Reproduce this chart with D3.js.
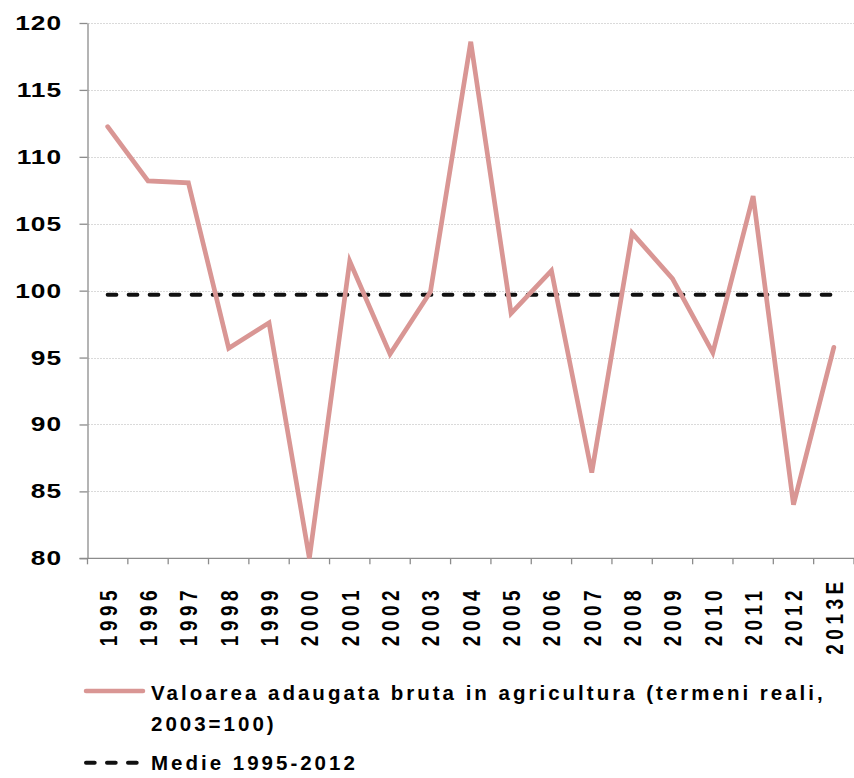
<!DOCTYPE html>
<html><head><meta charset="utf-8">
<script src="https://cdn.jsdelivr.net/npm/d3@7/dist/d3.min.js"></script>
<style>html,body{margin:0;padding:0;background:#fff;} svg{display:block;}</style>
</head><body>
<svg id="chart" width="854" height="778"></svg>
<script>
const years = ["1995","1996","1997","1998","1999","2000","2001","2002","2003","2004","2005","2006","2007","2008","2009","2010","2011","2012","2013E"];
const valoarea = [112.25,108.2,108.06,95.7,97.6,80.0,102.2,95.26,99.9,118.6,98.3,101.5,86.4,104.3,100.9,95.36,107.07,84.0,95.76];
const medie = [99.7,99.7,99.7,99.7,99.7,99.7,99.7,99.7,99.7,99.7,99.7,99.7,99.7,99.7,99.7,99.7,99.7,99.7,99.7];
const yTicks = [80,85,90,95,100,105,110,115,120];
const legendValoarea = ["Valoarea adaugata bruta in agricultura (termeni reali,", "2003=100)"];
const legendMedie = "Medie 1995-2012";

const FONT = "'Liberation Sans', Arial, Helvetica, sans-serif";
const PINK = "#d99694";
const AXIS = "#8c8c8c";

const svg = d3.select("#chart");
const x = d3.scaleBand().domain(years).range([87.5, 854]);
const y = d3.scaleLinear().domain([80, 120]).range([558.3, 23]);
const cx = d => x(d) + x.bandwidth() / 2;

// gridlines
svg.append("g").selectAll("line").data(yTicks.filter(t => t > 80)).join("line")
  .attr("x1", x.range()[0] + 1).attr("x2", x.range()[1])
  .attr("y1", d => Math.round(y(d)) + 0.5).attr("y2", d => Math.round(y(d)) + 0.5)
  .attr("stroke", "#b4b4b4").attr("stroke-width", 1).attr("stroke-dasharray", "1,2");

// y axis
const yAxisG = svg.append("g").attr("transform", `translate(${x.range()[0]},0)`)
  .call(d3.axisLeft(y).tickValues(yTicks).tickSize(8).tickSizeOuter(0).tickFormat(""));
yAxisG.selectAll(".domain, .tick line").attr("stroke", AXIS).attr("stroke-width", 1.3);

// y labels
svg.append("g").selectAll("text").data(yTicks).join("text")
  .attr("transform", d => `translate(62,${y(d)}) scale(1.35,1)`)
  .attr("text-anchor", "end").attr("dy", "0.36em")
  .attr("font-family", FONT).attr("font-size", 19.5).attr("font-weight", "bold")
  .attr("letter-spacing", 0.7).attr("fill", "#000")
  .text(d => d);

// x axis line + boundary ticks
const xb = svg.append("g");
xb.append("line").attr("x1", x.range()[0] - 8).attr("x2", x.range()[1])
  .attr("y1", y(80)).attr("y2", y(80)).attr("stroke", AXIS).attr("stroke-width", 1.3);
const bounds = years.map(d => x(d)).concat([x.range()[1]]);
xb.selectAll("line.tk").data(bounds).join("line").attr("class", "tk")
  .attr("x1", d => d).attr("x2", d => d).attr("y1", y(80)).attr("y2", y(80) + 6)
  .attr("stroke", AXIS).attr("stroke-width", 1.3);

// x labels
svg.append("g").selectAll("text").data(years).join("text")
  .attr("transform", d => `translate(${cx(d) + 9},616) rotate(-90) scale(1,1.25)`)
  .attr("text-anchor", "middle")
  .attr("font-family", FONT).attr("font-size", 19).attr("font-weight", "bold")
  .attr("letter-spacing", 4.5).attr("fill", "#000")
  .text(d => d);

// mean dashed line
const meanLine = d3.line().x((d, i) => cx(years[i])).y(d => y(d));
svg.append("path").datum(medie).attr("d", meanLine)
  .attr("fill", "none").attr("stroke", "#111").attr("stroke-width", 4)
  .attr("stroke-linecap", "round").attr("stroke-dasharray", "8.7,12.3");

// main series
const mainLine = d3.line().x((d, i) => cx(years[i])).y(d => y(d));
svg.append("path").datum(valoarea).attr("d", mainLine)
  .attr("fill", "none").attr("stroke", PINK).attr("stroke-width", 4.7)
  .attr("stroke-linejoin", "miter").attr("stroke-linecap", "round");

// legend
const lg = svg.append("g");
lg.append("line").attr("x1", 86).attr("x2", 143).attr("y1", 691).attr("y2", 691)
  .attr("stroke", PINK).attr("stroke-width", 4.5).attr("stroke-linecap", "round");
const t1 = lg.append("text").attr("font-family", FONT).attr("font-size", 20.5)
  .attr("font-weight", "bold").attr("letter-spacing", 3).attr("fill", "#000");
t1.selectAll("tspan").data(legendValoarea).join("tspan")
  .attr("x", 151).attr("y", (d, i) => 700 + i * 30.5).text(d => d);
lg.append("line").attr("x1", 86).attr("x2", 137).attr("y1", 762.7).attr("y2", 762.7)
  .attr("stroke", "#111").attr("stroke-width", 4)
  .attr("stroke-linecap", "round").attr("stroke-dasharray", "8.7,12.3");
lg.append("text").attr("x", 151).attr("y", 770)
  .attr("font-family", FONT).attr("font-size", 20.5).attr("font-weight", "bold")
  .attr("letter-spacing", 3).attr("fill", "#000").text(legendMedie);
</script>
</body></html>
